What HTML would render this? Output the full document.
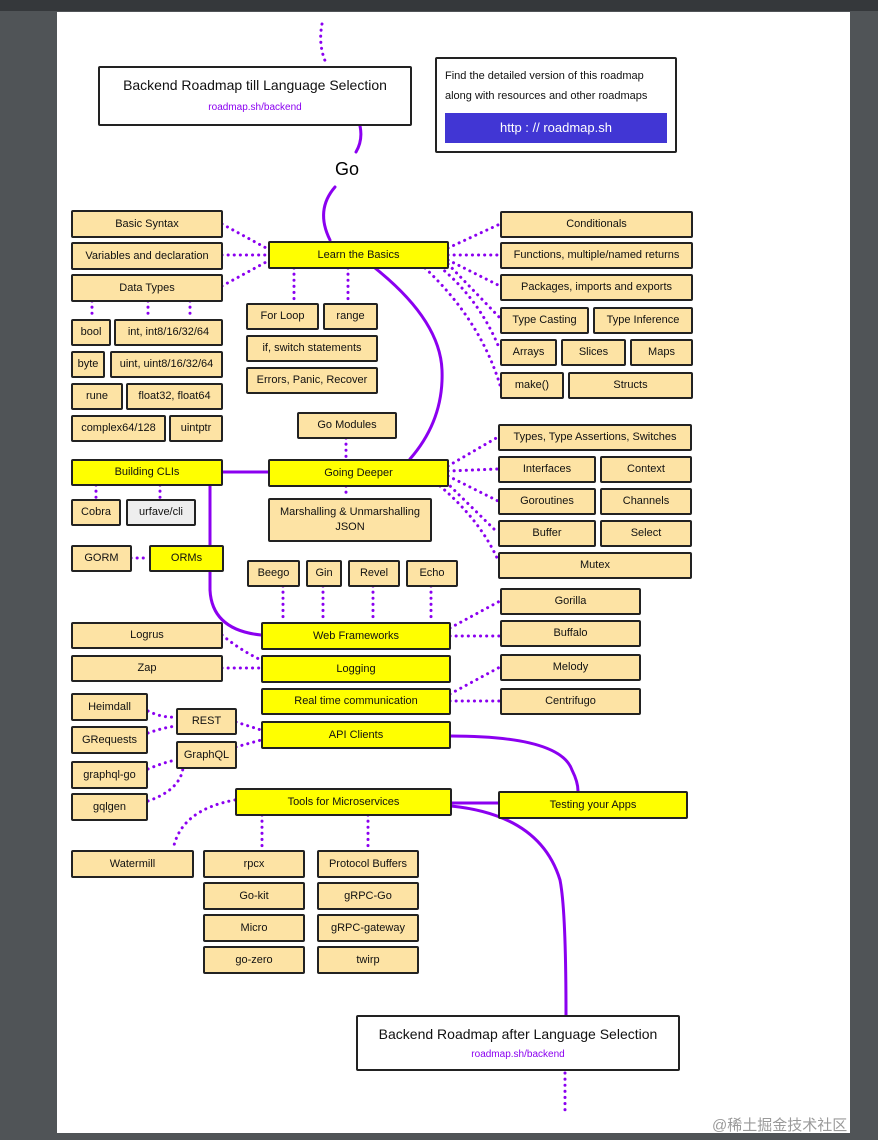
<!DOCTYPE html>
<html><head><meta charset="utf-8"><style>
html,body{margin:0;padding:0}
body{width:878px;height:1140px;background:#505457;position:relative;overflow:hidden;font-family:"Liberation Sans",sans-serif}
#top{position:absolute;left:0;top:0;width:878px;height:11px;background:#35383b}
#page{position:absolute;left:57px;top:12px;width:793px;height:1121px;background:#fff}
.b{position:absolute;box-sizing:border-box;border:2px solid #222;background:#fde3a4;display:flex;align-items:center;justify-content:center;text-align:center;font-size:11px;color:#111;border-radius:2px;line-height:15px}
.y{background:#ffff00}
.w{background:#fff}
svg{position:absolute;left:0;top:0}
.t{position:absolute;white-space:nowrap}
</style></head><body>
<div id="top"></div><div id="page"></div>
<svg width="878" height="1140" fill="none">
<g stroke="#8b00f0" stroke-width="3" stroke-linecap="round">
<path d="M360 126 Q363 140 356 152"/>
<path d="M335 187 Q315 210 330 240"/>
<path d="M375 268 Q440 320 442 370 Q444 420 410 459"/>
<path d="M222 472 L268 472"/>
<path d="M210 486 L210 590 Q212 630 261 635"/>
<path d="M450 736 Q560 736 572 770 Q578 782 578 791"/>
<path d="M451 803 L498 803"/>
<path d="M451 806 Q540 815 560 880 Q566 910 566 1015"/>
</g>
<g stroke="#8b00f0" stroke-width="3" stroke-linecap="round" stroke-dasharray="0.1 6">
<path d="M322 24 Q318 45 326 63"/>
<path d="M565 1073 L565 1115"/>
<path d="M222 224 L268 249"/><path d="M222 255 L268 255"/><path d="M222 286 L268 261"/>
<path d="M92 301 L92 319"/><path d="M148 301 L148 319"/><path d="M190 301 L190 319"/>
<path d="M294 268 L294 303"/><path d="M348 268 L348 303"/>
<path d="M448 248 L500 224"/><path d="M448 255 L500 255"/><path d="M448 260 L500 286"/>
<path d="M448 264 L500 318"/><path d="M440 267 Q480 300 500 350"/><path d="M425 268 Q480 320 500 385"/>
<path d="M346 438 L346 459"/><path d="M346 486 L346 498"/>
<path d="M448 466 L498 437"/><path d="M448 471 L498 469"/><path d="M448 476 L498 501"/>
<path d="M446 482 L498 533"/><path d="M440 486 Q480 520 498 560"/>
<path d="M96 485 L96 499"/><path d="M160 485 L160 499"/>
<path d="M131 558 L149 558"/>
<path d="M283 586 L283 622"/><path d="M323 586 L323 622"/><path d="M373 586 L373 622"/><path d="M431 586 L431 622"/>
<path d="M450 628 L500 601"/><path d="M450 636 L500 636"/>
<path d="M222 635 Q240 650 261 660"/><path d="M222 668 L261 668"/>
<path d="M450 694 L500 667"/><path d="M450 701 L500 701"/>
<path d="M148 711 Q162 718 176 717"/><path d="M148 733 Q162 728 176 726"/>
<path d="M236 722 L261 730"/><path d="M236 747 L261 740"/>
<path d="M148 769 Q165 762 176 760"/><path d="M148 801 Q180 790 183 768"/>
<path d="M235 800 Q180 810 173 850"/>
<path d="M262 815 L262 850"/><path d="M368 815 L368 850"/>
</g>
</svg>
<div class="b w" style="left:98px;top:66px;width:314px;height:60px;display:block">
<div class="t" style="left:0;width:310px;top:10px;text-align:center;font-size:14px">Backend Roadmap till Language Selection</div>
<div class="t" style="left:0;width:310px;top:32px;text-align:center;font-size:10px;color:#8b00f0">roadmap.sh/backend</div></div>
<div class="b w" style="left:435px;top:57px;width:242px;height:96px;display:block">
<div class="t" style="left:8px;top:10px;font-size:11px">Find the detailed version of this roadmap</div>
<div class="t" style="left:8px;top:30px;font-size:11px">along with resources and other roadmaps</div>
<div style="position:absolute;left:8px;top:54px;width:222px;height:30px;background:#4136d4;color:#fff;font-size:13px;text-align:center;line-height:30px">http : // roadmap.sh</div></div>
<div class="t" style="left:335px;top:159px;font-size:18px">Go</div>
<div class="b" style="left:71px;top:210px;width:152px;height:28px">Basic Syntax</div>
<div class="b" style="left:71px;top:242px;width:152px;height:28px">Variables and declaration</div>
<div class="b" style="left:71px;top:274px;width:152px;height:28px">Data Types</div>
<div class="b" style="left:71px;top:319px;width:40px;height:27px">bool</div>
<div class="b" style="left:114px;top:319px;width:109px;height:27px">int, int8/16/32/64</div>
<div class="b" style="left:71px;top:351px;width:34px;height:27px">byte</div>
<div class="b" style="left:110px;top:351px;width:113px;height:27px">uint, uint8/16/32/64</div>
<div class="b" style="left:71px;top:383px;width:52px;height:27px">rune</div>
<div class="b" style="left:126px;top:383px;width:97px;height:27px">float32, float64</div>
<div class="b" style="left:71px;top:415px;width:95px;height:27px">complex64/128</div>
<div class="b" style="left:169px;top:415px;width:54px;height:27px">uintptr</div>
<div class="b y" style="left:268px;top:241px;width:181px;height:28px">Learn the Basics</div>
<div class="b" style="left:246px;top:303px;width:73px;height:27px">For Loop</div>
<div class="b" style="left:323px;top:303px;width:55px;height:27px">range</div>
<div class="b" style="left:246px;top:335px;width:132px;height:27px">if, switch statements</div>
<div class="b" style="left:246px;top:367px;width:132px;height:27px">Errors, Panic, Recover</div>
<div class="b" style="left:297px;top:412px;width:100px;height:27px">Go Modules</div>
<div class="b" style="left:500px;top:211px;width:193px;height:27px">Conditionals</div>
<div class="b" style="left:500px;top:242px;width:193px;height:27px">Functions, multiple/named returns</div>
<div class="b" style="left:500px;top:274px;width:193px;height:27px">Packages, imports and exports</div>
<div class="b" style="left:500px;top:307px;width:89px;height:27px">Type Casting</div>
<div class="b" style="left:593px;top:307px;width:100px;height:27px">Type Inference</div>
<div class="b" style="left:500px;top:339px;width:57px;height:27px">Arrays</div>
<div class="b" style="left:561px;top:339px;width:65px;height:27px">Slices</div>
<div class="b" style="left:630px;top:339px;width:63px;height:27px">Maps</div>
<div class="b" style="left:500px;top:372px;width:64px;height:27px">make()</div>
<div class="b" style="left:568px;top:372px;width:125px;height:27px">Structs</div>
<div class="b" style="left:498px;top:424px;width:194px;height:27px">Types, Type Assertions, Switches</div>
<div class="b" style="left:498px;top:456px;width:98px;height:27px">Interfaces</div>
<div class="b" style="left:600px;top:456px;width:92px;height:27px">Context</div>
<div class="b" style="left:498px;top:488px;width:98px;height:27px">Goroutines</div>
<div class="b" style="left:600px;top:488px;width:92px;height:27px">Channels</div>
<div class="b" style="left:498px;top:520px;width:98px;height:27px">Buffer</div>
<div class="b" style="left:600px;top:520px;width:92px;height:27px">Select</div>
<div class="b" style="left:498px;top:552px;width:194px;height:27px">Mutex</div>
<div class="b y" style="left:268px;top:459px;width:181px;height:28px">Going Deeper</div>
<div class="b y" style="left:71px;top:459px;width:152px;height:27px">Building CLIs</div>
<div class="b" style="left:71px;top:499px;width:50px;height:27px">Cobra</div>
<div class="b" style="left:126px;top:499px;width:70px;height:27px;background:#eee">urfave/cli</div>
<div class="b" style="left:268px;top:498px;width:164px;height:44px">Marshalling &amp; Unmarshalling<br>JSON</div>
<div class="b" style="left:71px;top:545px;width:61px;height:27px">GORM</div>
<div class="b y" style="left:149px;top:545px;width:75px;height:27px">ORMs</div>
<div class="b" style="left:247px;top:560px;width:53px;height:27px">Beego</div>
<div class="b" style="left:306px;top:560px;width:36px;height:27px">Gin</div>
<div class="b" style="left:348px;top:560px;width:52px;height:27px">Revel</div>
<div class="b" style="left:406px;top:560px;width:52px;height:27px">Echo</div>
<div class="b y" style="left:261px;top:622px;width:190px;height:28px">Web Frameworks</div>
<div class="b" style="left:500px;top:588px;width:141px;height:27px">Gorilla</div>
<div class="b" style="left:500px;top:620px;width:141px;height:27px">Buffalo</div>
<div class="b" style="left:71px;top:622px;width:152px;height:27px">Logrus</div>
<div class="b" style="left:71px;top:655px;width:152px;height:27px">Zap</div>
<div class="b y" style="left:261px;top:655px;width:190px;height:28px">Logging</div>
<div class="b" style="left:500px;top:654px;width:141px;height:27px">Melody</div>
<div class="b" style="left:500px;top:688px;width:141px;height:27px">Centrifugo</div>
<div class="b y" style="left:261px;top:688px;width:190px;height:27px">Real time communication</div>
<div class="b" style="left:71px;top:693px;width:77px;height:28px">Heimdall</div>
<div class="b" style="left:71px;top:726px;width:77px;height:28px">GRequests</div>
<div class="b" style="left:176px;top:708px;width:61px;height:27px">REST</div>
<div class="b" style="left:176px;top:741px;width:61px;height:28px">GraphQL</div>
<div class="b" style="left:71px;top:761px;width:77px;height:28px">graphql-go</div>
<div class="b" style="left:71px;top:793px;width:77px;height:28px">gqlgen</div>
<div class="b y" style="left:261px;top:721px;width:190px;height:28px">API Clients</div>
<div class="b y" style="left:498px;top:791px;width:190px;height:28px">Testing your Apps</div>
<div class="b y" style="left:235px;top:788px;width:217px;height:28px">Tools for Microservices</div>
<div class="b" style="left:71px;top:850px;width:123px;height:28px">Watermill</div>
<div class="b" style="left:203px;top:850px;width:102px;height:28px">rpcx</div>
<div class="b" style="left:203px;top:882px;width:102px;height:28px">Go-kit</div>
<div class="b" style="left:203px;top:914px;width:102px;height:28px">Micro</div>
<div class="b" style="left:203px;top:946px;width:102px;height:28px">go-zero</div>
<div class="b" style="left:317px;top:850px;width:102px;height:28px">Protocol Buffers</div>
<div class="b" style="left:317px;top:882px;width:102px;height:28px">gRPC-Go</div>
<div class="b" style="left:317px;top:914px;width:102px;height:28px">gRPC-gateway</div>
<div class="b" style="left:317px;top:946px;width:102px;height:28px">twirp</div>
<div class="b w" style="left:356px;top:1015px;width:324px;height:56px;display:block">
<div class="t" style="left:0;width:320px;top:10px;text-align:center;font-size:14px">Backend Roadmap after Language Selection</div>
<div class="t" style="left:0;width:320px;top:30px;text-align:center;font-size:10px;color:#8b00f0">roadmap.sh/backend</div></div>
<div class="t" style="left:712px;top:1114px;font-size:15px;color:#9a9a9a;font-family:'Liberation Sans','Noto Sans CJK SC',sans-serif">@稀土掘金技术社区</div>
</body></html>
